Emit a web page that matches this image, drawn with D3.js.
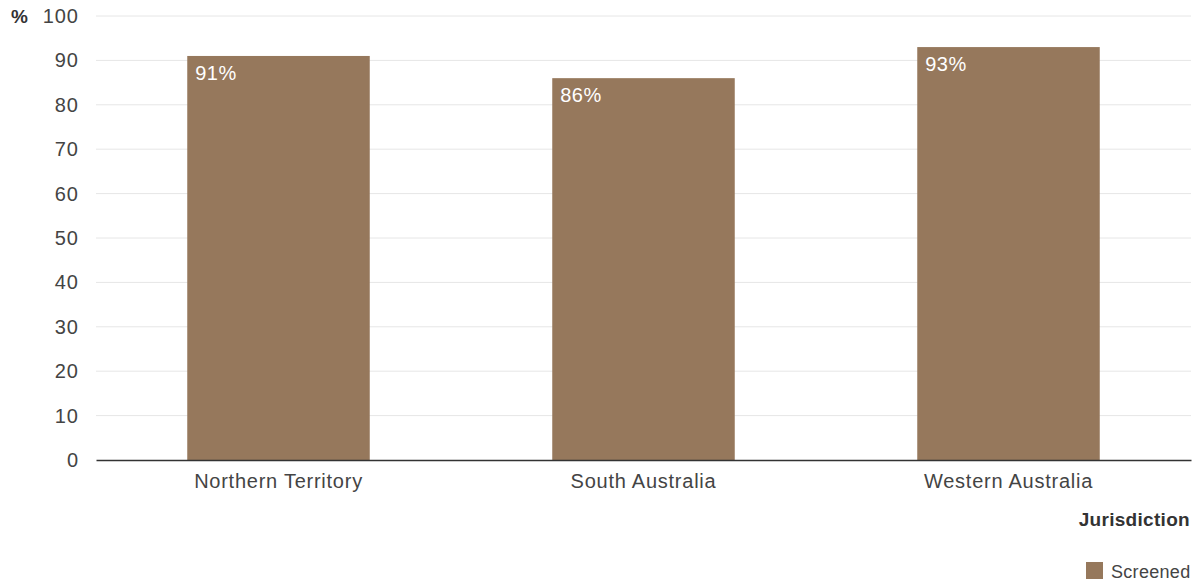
<!DOCTYPE html>
<html><head><meta charset="utf-8">
<script src="https://cdn.jsdelivr.net/npm/d3@7"></script>
<style>
body{margin:0;background:#fff;}
text{font-family:"Liberation Sans",Arial,sans-serif;}
</style></head>
<body><svg id="c" width="1199" height="582"></svg>
<script>
const categories = ["Northern Territory","South Australia","Western Australia"];
const screened = [91,86,93];
const yTicks = [0,10,20,30,40,50,60,70,80,90,100];
const seriesName = "Screened";
const xTitle = "Jurisdiction";
const yUnit = "%";

const svg = d3.select("#c");
const L = 96, R = 1191, T = 16, B = 460;
const x = d3.scaleBand().domain(categories).range([L,R]).paddingInner(0.5).paddingOuter(0.25);
const y = d3.scaleLinear().domain([0,100]).range([B,T]);
const color = "#96785c";
const FF = "Liberation Sans, Arial, sans-serif";

// grid
svg.append("g").selectAll("line").data(yTicks.filter(d=>d>0)).join("line")
  .attr("x1",L).attr("x2",R).attr("y1",d=>y(d)).attr("y2",d=>y(d))
  .attr("stroke","#e6e6e6").attr("stroke-width",1);

// y tick labels
const ya = svg.append("g").attr("transform",`translate(${L-18},0)`)
  .call(d3.axisLeft(y).tickValues(yTicks).tickSize(0).tickPadding(0));
ya.select(".domain").remove();
ya.selectAll("text").attr("font-size",20).attr("letter-spacing","1px").attr("fill","#444").attr("font-family",FF)
  .attr("dx","1px");

svg.append("text").attr("x",11).attr("y",y(100)).attr("dy","0.35em")
  .attr("font-size",19).attr("font-weight","bold").attr("fill","#333").text(yUnit);

// bars
svg.append("g").selectAll("rect").data(screened).join("rect")
  .attr("x",(d,i)=>x(categories[i])).attr("width",x.bandwidth())
  .attr("y",d=>y(d)).attr("height",d=>B-y(d)).attr("fill",color);

// labels
svg.append("g").selectAll("text").data(screened).join("text")
  .attr("x",(d,i)=>x(categories[i])+8).attr("y",d=>y(d)+24)
  .attr("font-size",20).attr("letter-spacing","0.5px").attr("fill","#fff").text(d=>d+"%");

// x axis
const xa = svg.append("g").attr("transform",`translate(0,${B})`)
  .call(d3.axisBottom(x).tickSize(0).tickPadding(14));
xa.select(".domain").attr("stroke","#333").attr("stroke-width",1.5);
xa.selectAll("text").attr("font-size",20).attr("letter-spacing","0.75px").attr("fill","#444").attr("font-family",FF);

svg.append("text").attr("x",1190).attr("y",526).attr("text-anchor","end")
  .attr("font-size",19).attr("letter-spacing","0.3px").attr("font-weight","bold").attr("fill","#333").text(xTitle);

// legend
svg.append("rect").attr("x",1086).attr("y",562).attr("width",17).attr("height",17).attr("fill",color);
svg.append("text").attr("x",1111).attr("y",578).attr("font-size",18).attr("letter-spacing","0.3px").attr("fill","#444").text(seriesName);
</script></body></html>
